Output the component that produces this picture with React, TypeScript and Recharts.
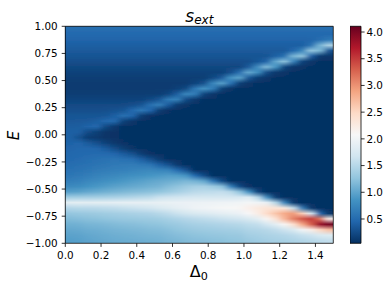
import { ComposedChart, XAxis, YAxis, ReferenceArea } from 'recharts';

const FONT = 'DejaVu Sans';

// Δ0 at the middle of each column of the map
const deltaCenters = [
  0.025, 0.075, 0.125, 0.175, 0.225, 0.275, 0.325, 0.375, 0.425, 0.475,
  0.525, 0.575, 0.625, 0.675, 0.725, 0.775, 0.825, 0.875, 0.925, 0.975,
  1.025, 1.075, 1.125, 1.175, 1.225, 1.275, 1.325, 1.375, 1.425, 1.475,
];

// E of each sample down a column, top to bottom
const energyLevels = [
  0.975, 0.925, 0.875, 0.825, 0.775, 0.725, 0.675, 0.625, 0.575, 0.525,
  0.475, 0.425, 0.375, 0.325, 0.275, 0.225, 0.175, 0.125, 0.075, 0.025,
  -0.025, -0.075, -0.125, -0.175, -0.225, -0.275, -0.325, -0.375, -0.425, -0.475,
  -0.525, -0.575, -0.625, -0.675, -0.725, -0.775, -0.825, -0.875, -0.925, -0.975,
];

const deltaTicks = [0, 0.2, 0.4, 0.6, 0.8, 1.0, 1.2, 1.4];
const energyTicks = [-1, -0.75, -0.5, -0.25, 0, 0.25, 0.5, 0.75, 1];
const colorbarTicks = [0.5, 1.0, 1.5, 2.0, 2.5, 3.0, 3.5, 4.0];
const colorRange = [0.045, 4.107];

// s_ext: one list per Δ0 column, E from +1 down to -1
const sExt = [
  [0.52, 0.48, 0.44, 0.40, 0.36, 0.32, 0.27, 0.22, 0.18, 0.15, 0.13, 0.13, 0.15, 0.19, 0.24, 0.28, 0.32, 0.35, 0.38, 0.40,
   0.41, 0.42, 0.44, 0.46, 0.48, 0.51, 0.55, 0.60, 0.67, 0.77, 0.95, 1.35, 1.85, 1.48, 1.28, 1.18, 1.09, 1.03, 0.98, 0.95],
  [0.52, 0.48, 0.44, 0.40, 0.36, 0.32, 0.27, 0.22, 0.18, 0.15, 0.13, 0.13, 0.15, 0.19, 0.24, 0.28, 0.32, 0.35, 0.38, 0.40,
   0.30, 0.44, 0.46, 0.48, 0.50, 0.53, 0.57, 0.62, 0.69, 0.79, 0.97, 1.36, 1.87, 1.50, 1.30, 1.20, 1.10, 1.04, 0.99, 0.96],
  [0.52, 0.48, 0.44, 0.40, 0.36, 0.32, 0.27, 0.22, 0.18, 0.15, 0.13, 0.13, 0.15, 0.19, 0.24, 0.28, 0.32, 0.36, 0.43, 0.25,
   0.15, 0.36, 0.46, 0.49, 0.52, 0.55, 0.60, 0.66, 0.75, 0.85, 1.02, 1.37, 1.86, 1.51, 1.32, 1.22, 1.13, 1.07, 1.02, 0.99],
  [0.52, 0.48, 0.44, 0.40, 0.36, 0.32, 0.27, 0.22, 0.18, 0.15, 0.13, 0.13, 0.15, 0.19, 0.24, 0.28, 0.32, 0.39, 0.47, 0.17,
   0.12, 0.28, 0.44, 0.50, 0.54, 0.58, 0.63, 0.70, 0.78, 0.89, 1.05, 1.38, 1.87, 1.52, 1.34, 1.24, 1.14, 1.08, 1.04, 1.01],
  [0.52, 0.48, 0.44, 0.40, 0.36, 0.32, 0.27, 0.22, 0.18, 0.15, 0.13, 0.13, 0.15, 0.19, 0.24, 0.28, 0.34, 0.47, 0.23, 0.09,
   0.08, 0.18, 0.37, 0.49, 0.56, 0.60, 0.65, 0.73, 0.82, 0.93, 1.09, 1.40, 1.87, 1.54, 1.36, 1.26, 1.16, 1.10, 1.06, 1.03],
  [0.52, 0.48, 0.44, 0.40, 0.36, 0.32, 0.27, 0.22, 0.18, 0.15, 0.13, 0.13, 0.15, 0.19, 0.24, 0.30, 0.40, 0.49, 0.12, 0.07,
   0.07, 0.11, 0.26, 0.45, 0.58, 0.62, 0.68, 0.76, 0.86, 0.97, 1.12, 1.42, 1.88, 1.56, 1.38, 1.28, 1.18, 1.12, 1.08, 1.05],
  [0.52, 0.48, 0.44, 0.40, 0.36, 0.32, 0.27, 0.22, 0.18, 0.15, 0.13, 0.13, 0.15, 0.19, 0.24, 0.32, 0.54, 0.18, 0.06, 0.06,
   0.06, 0.07, 0.15, 0.37, 0.55, 0.63, 0.69, 0.79, 0.89, 1.00, 1.15, 1.44, 1.89, 1.59, 1.40, 1.30, 1.20, 1.13, 1.09, 1.06],
  [0.52, 0.48, 0.44, 0.40, 0.36, 0.32, 0.27, 0.22, 0.18, 0.15, 0.13, 0.13, 0.15, 0.19, 0.27, 0.47, 0.45, 0.10, 0.06, 0.06,
   0.06, 0.06, 0.08, 0.29, 0.52, 0.64, 0.71, 0.82, 0.93, 1.03, 1.18, 1.47, 1.90, 1.62, 1.42, 1.31, 1.21, 1.15, 1.10, 1.07],
  [0.52, 0.48, 0.44, 0.40, 0.36, 0.32, 0.27, 0.22, 0.18, 0.15, 0.13, 0.13, 0.15, 0.19, 0.32, 0.61, 0.14, 0.06, 0.06, 0.06,
   0.06, 0.06, 0.06, 0.15, 0.40, 0.61, 0.74, 0.84, 0.96, 1.06, 1.20, 1.50, 1.90, 1.65, 1.44, 1.33, 1.23, 1.16, 1.12, 1.08],
  [0.52, 0.48, 0.44, 0.40, 0.36, 0.32, 0.27, 0.22, 0.18, 0.15, 0.13, 0.13, 0.15, 0.24, 0.53, 0.45, 0.07, 0.06, 0.06, 0.06,
   0.06, 0.06, 0.06, 0.07, 0.28, 0.58, 0.76, 0.87, 1.00, 1.09, 1.23, 1.53, 1.91, 1.68, 1.46, 1.34, 1.25, 1.18, 1.13, 1.09],
  [0.52, 0.48, 0.44, 0.40, 0.36, 0.32, 0.27, 0.22, 0.18, 0.15, 0.13, 0.13, 0.15, 0.32, 0.68, 0.14, 0.06, 0.06, 0.06, 0.06,
   0.06, 0.06, 0.06, 0.06, 0.14, 0.41, 0.72, 0.90, 1.03, 1.12, 1.26, 1.62, 1.92, 1.75, 1.50, 1.36, 1.26, 1.19, 1.14, 1.10],
  [0.52, 0.48, 0.44, 0.40, 0.36, 0.32, 0.27, 0.22, 0.18, 0.15, 0.13, 0.13, 0.21, 0.63, 0.37, 0.07, 0.06, 0.06, 0.06, 0.06,
   0.06, 0.06, 0.06, 0.06, 0.06, 0.30, 0.71, 0.93, 1.06, 1.19, 1.33, 1.65, 1.93, 1.81, 1.56, 1.40, 1.30, 1.22, 1.17, 1.13],
  [0.52, 0.48, 0.44, 0.40, 0.36, 0.32, 0.27, 0.22, 0.18, 0.15, 0.13, 0.17, 0.38, 0.70, 0.13, 0.06, 0.06, 0.06, 0.06, 0.06,
   0.06, 0.06, 0.06, 0.06, 0.06, 0.12, 0.50, 0.92, 1.09, 1.25, 1.39, 1.67, 1.94, 1.87, 1.63, 1.44, 1.33, 1.26, 1.20, 1.15],
  [0.52, 0.48, 0.44, 0.40, 0.36, 0.32, 0.27, 0.22, 0.18, 0.15, 0.13, 0.23, 0.75, 0.25, 0.08, 0.06, 0.06, 0.06, 0.06, 0.06,
   0.06, 0.06, 0.06, 0.06, 0.06, 0.06, 0.31, 0.86, 1.14, 1.32, 1.46, 1.70, 1.95, 1.92, 1.69, 1.48, 1.37, 1.29, 1.22, 1.18],
  [0.52, 0.48, 0.44, 0.40, 0.36, 0.32, 0.27, 0.22, 0.18, 0.15, 0.19, 0.60, 0.66, 0.12, 0.06, 0.06, 0.06, 0.06, 0.06, 0.06,
   0.06, 0.06, 0.06, 0.06, 0.06, 0.06, 0.06, 0.48, 1.10, 1.38, 1.52, 1.72, 1.95, 1.98, 1.75, 1.52, 1.40, 1.32, 1.25, 1.20],
  [0.52, 0.48, 0.44, 0.40, 0.36, 0.32, 0.27, 0.22, 0.18, 0.15, 0.28, 0.86, 0.19, 0.06, 0.06, 0.06, 0.06, 0.06, 0.06, 0.06,
   0.06, 0.06, 0.06, 0.06, 0.06, 0.06, 0.06, 0.25, 1.01, 1.39, 1.54, 1.72, 1.96, 2.00, 1.79, 1.55, 1.42, 1.34, 1.26, 1.21],
  [0.52, 0.48, 0.44, 0.40, 0.36, 0.32, 0.27, 0.22, 0.18, 0.23, 0.72, 0.66, 0.10, 0.06, 0.06, 0.06, 0.06, 0.06, 0.06, 0.06,
   0.06, 0.06, 0.06, 0.06, 0.06, 0.06, 0.06, 0.06, 0.60, 1.32, 1.55, 1.72, 1.97, 2.03, 1.83, 1.58, 1.44, 1.35, 1.28, 1.23],
  [0.52, 0.48, 0.44, 0.40, 0.36, 0.32, 0.27, 0.22, 0.18, 0.36, 0.96, 0.17, 0.06, 0.06, 0.06, 0.06, 0.06, 0.06, 0.06, 0.06,
   0.06, 0.06, 0.06, 0.06, 0.06, 0.06, 0.06, 0.06, 0.24, 1.22, 1.57, 1.72, 1.98, 2.05, 1.87, 1.62, 1.46, 1.37, 1.29, 1.24],
  [0.52, 0.48, 0.44, 0.40, 0.36, 0.32, 0.27, 0.22, 0.28, 0.85, 0.55, 0.08, 0.06, 0.06, 0.06, 0.06, 0.06, 0.06, 0.06, 0.06,
   0.06, 0.06, 0.06, 0.06, 0.06, 0.06, 0.06, 0.06, 0.06, 0.66, 1.50, 1.72, 1.99, 2.07, 1.91, 1.65, 1.48, 1.38, 1.31, 1.26],
  [0.52, 0.48, 0.44, 0.40, 0.36, 0.32, 0.27, 0.22, 0.51, 0.98, 0.16, 0.06, 0.06, 0.06, 0.06, 0.06, 0.06, 0.06, 0.06, 0.06,
   0.06, 0.06, 0.06, 0.06, 0.06, 0.06, 0.06, 0.06, 0.06, 0.23, 1.25, 1.72, 2.00, 2.10, 1.95, 1.68, 1.50, 1.40, 1.32, 1.27],
  [0.52, 0.48, 0.44, 0.40, 0.36, 0.32, 0.27, 0.36, 1.02, 0.33, 0.09, 0.06, 0.06, 0.06, 0.06, 0.06, 0.06, 0.06, 0.06, 0.06,
   0.06, 0.06, 0.06, 0.06, 0.06, 0.06, 0.06, 0.06, 0.06, 0.07, 0.82, 1.80, 2.03, 2.19, 2.06, 1.75, 1.55, 1.45, 1.38, 1.32],
  [0.52, 0.48, 0.44, 0.40, 0.36, 0.32, 0.34, 0.78, 0.82, 0.15, 0.06, 0.06, 0.06, 0.06, 0.06, 0.06, 0.06, 0.06, 0.06, 0.06,
   0.06, 0.06, 0.06, 0.06, 0.06, 0.06, 0.06, 0.06, 0.06, 0.06, 0.20, 1.49, 2.00, 2.28, 2.22, 1.85, 1.58, 1.47, 1.40, 1.35],
  [0.52, 0.48, 0.44, 0.40, 0.36, 0.32, 0.43, 1.17, 0.26, 0.10, 0.06, 0.06, 0.06, 0.06, 0.06, 0.06, 0.06, 0.06, 0.06, 0.06,
   0.06, 0.06, 0.06, 0.06, 0.06, 0.06, 0.06, 0.06, 0.06, 0.06, 0.06, 0.80, 1.95, 2.35, 2.45, 2.10, 1.70, 1.50, 1.43, 1.38],
  [0.52, 0.48, 0.44, 0.40, 0.36, 0.41, 0.98, 0.88, 0.12, 0.06, 0.06, 0.06, 0.06, 0.06, 0.06, 0.06, 0.06, 0.06, 0.06, 0.06,
   0.06, 0.06, 0.06, 0.06, 0.06, 0.06, 0.06, 0.06, 0.06, 0.06, 0.06, 0.15, 1.50, 2.35, 2.65, 2.35, 1.85, 1.56, 1.45, 1.40],
  [0.52, 0.48, 0.44, 0.40, 0.36, 0.54, 1.25, 0.22, 0.09, 0.06, 0.06, 0.06, 0.06, 0.06, 0.06, 0.06, 0.06, 0.06, 0.06, 0.06,
   0.06, 0.06, 0.06, 0.06, 0.06, 0.06, 0.06, 0.06, 0.06, 0.06, 0.06, 0.06, 0.73, 2.30, 2.85, 2.75, 2.10, 1.65, 1.48, 1.41],
  [0.52, 0.48, 0.44, 0.40, 0.47, 1.12, 0.70, 0.10, 0.06, 0.06, 0.06, 0.06, 0.06, 0.06, 0.06, 0.06, 0.06, 0.06, 0.06, 0.06,
   0.06, 0.06, 0.06, 0.06, 0.06, 0.06, 0.06, 0.06, 0.06, 0.06, 0.06, 0.06, 0.12, 1.60, 2.95, 3.10, 2.40, 1.75, 1.53, 1.44],
  [0.52, 0.48, 0.44, 0.40, 0.72, 1.26, 0.19, 0.08, 0.06, 0.06, 0.06, 0.06, 0.06, 0.06, 0.06, 0.06, 0.06, 0.06, 0.06, 0.06,
   0.06, 0.06, 0.06, 0.06, 0.06, 0.06, 0.06, 0.06, 0.06, 0.06, 0.06, 0.06, 0.06, 0.65, 2.60, 3.35, 2.85, 2.00, 1.60, 1.47],
  [0.52, 0.48, 0.44, 0.55, 1.29, 0.40, 0.10, 0.06, 0.06, 0.06, 0.06, 0.06, 0.06, 0.06, 0.06, 0.06, 0.06, 0.06, 0.06, 0.06,
   0.06, 0.06, 0.06, 0.06, 0.06, 0.06, 0.06, 0.06, 0.06, 0.06, 0.06, 0.06, 0.06, 0.10, 1.70, 3.50, 3.30, 2.20, 1.65, 1.50],
  [0.52, 0.48, 0.52, 1.10, 1.15, 0.12, 0.06, 0.06, 0.06, 0.06, 0.06, 0.06, 0.06, 0.06, 0.06, 0.06, 0.06, 0.06, 0.06, 0.06,
   0.06, 0.06, 0.06, 0.06, 0.06, 0.06, 0.06, 0.06, 0.06, 0.06, 0.06, 0.06, 0.06, 0.06, 0.44, 3.20, 3.85, 2.50, 1.75, 1.55],
  [0.52, 0.48, 0.62, 1.43, 0.30, 0.10, 0.06, 0.06, 0.06, 0.06, 0.06, 0.06, 0.06, 0.06, 0.06, 0.06, 0.06, 0.06, 0.06, 0.06,
   0.06, 0.06, 0.06, 0.06, 0.06, 0.06, 0.06, 0.06, 0.06, 0.06, 0.06, 0.06, 0.06, 0.06, 0.08, 2.20, 4.05, 2.70, 1.80, 1.58],
];

// matplotlib RdBu, used reversed
const RdBu = ['#67001f', '#b2182b', '#d6604d', '#f4a582', '#fddbc7', '#f7f7f7', '#d1e5f0', '#92c5de', '#4393c3', '#2166ac', '#053061'];

const rgb = (h: string) => [1, 3, 5].map((i) => parseInt(h.slice(i, i + 2), 16));

function colorOf(v: number) {
  const t = Math.min(1, Math.max(0, (v - colorRange[0]) / (colorRange[1] - colorRange[0])));
  const p = (1 - t) * (RdBu.length - 1);
  const i = Math.min(RdBu.length - 2, Math.floor(p));
  const f = p - i;
  const a = rgb(RdBu[i]);
  const b = rgb(RdBu[i + 1]);
  return `rgb(${a.map((c, n) => Math.round(c + (b[n] - c) * f)).join(',')})`;
}

const minus = (s: string) => s.replace('-', '\u2212');
const tickStyle = { fill: '#000', fontSize: 10.4, fontFamily: FONT };
const tickLine = { stroke: '#000', strokeWidth: 0.8 };
const plotMargin = { top: 26.3, right: 56.7, bottom: 46.7, left: 65.3 };

export default function App() {
  const half = (deltaCenters[1] - deltaCenters[0]) / 2;
  const last = deltaCenters.length - 1;
  const columns = deltaCenters.map((d) => ({ delta: d }));

  return (
    <div style={{ position: 'absolute', left: 0, top: 0, width: 390, height: 290, background: '#fff' }}>
      {/* smooths the column steps sideways, like gouraud shading */}
      <svg width={0} height={0} style={{ position: 'absolute' }}>
        <filter id="hblur" x="-5%" y="-5%" width="110%" height="110%">
          <feGaussianBlur stdDeviation="3.4 0" />
        </filter>
      </svg>

      {/* the map, clipped to the plot area */}
      <div style={{ position: 'absolute', left: 65.3, top: 26.3, width: 268, height: 217, overflow: 'hidden' }}>
        <div style={{ position: 'absolute', left: -65.3, top: -26.3, filter: 'url(#hblur)' }}>
          <ComposedChart width={390} height={290} data={columns} margin={plotMargin}>
            <defs>
              {sExt.map((col, k) => (
                <linearGradient key={k} id={`col${k}`} x1="0" y1="0" x2="0" y2="1">
                  {col.map((v, j) => (
                    <stop key={j} offset={(1 - energyLevels[j]) / 2} stopColor={colorOf(v)} />
                  ))}
                </linearGradient>
              ))}
            </defs>
            <XAxis dataKey="delta" type="number" domain={[0, 1.5]} hide allowDataOverflow />
            <YAxis type="number" domain={[-1, 1]} hide allowDataOverflow />
            {deltaCenters.map((d, k) => (
              <ReferenceArea
                key={k}
                x1={k === 0 ? d - 3 * half : d - half}
                x2={k === last ? d + 3 * half : d + half + 0.006}
                y1={-1}
                y2={1}
                fill={`url(#col${k})`}
                fillOpacity={1}
                stroke="none"
                ifOverflow="visible"
              />
            ))}
          </ComposedChart>
        </div>
      </div>

      {/* axes and frame */}
      <div style={{ position: 'absolute', left: 0, top: 0 }}>
        <ComposedChart width={390} height={290} data={columns} margin={{ top: 26.3, right: 56.7, bottom: 0, left: 0 }}>
          <XAxis
            dataKey="delta"
            type="number"
            domain={[0, 1.5]}
            ticks={deltaTicks}
            interval={0}
            tickFormatter={(v: number) => v.toFixed(1)}
            height={46.7}
            tickSize={3.6}
            tickMargin={4.5}
            axisLine={false}
            tickLine={tickLine}
            tick={tickStyle}
            allowDataOverflow
          />
          <YAxis
            type="number"
            domain={[-1, 1]}
            ticks={energyTicks}
            interval={0}
            tickFormatter={(v: number) => minus(v.toFixed(2))}
            width={65.3}
            tickSize={3.6}
            tickMargin={4}
            axisLine={false}
            tickLine={tickLine}
            tick={tickStyle}
            allowDataOverflow
          />
          <ReferenceArea x1={0} x2={1.5} y1={-1} y2={1} fill="none" stroke="#000" strokeWidth={0.8} ifOverflow="visible" />
        </ComposedChart>
      </div>

      {/* colour bar */}
      <div style={{ position: 'absolute', left: 350, top: 0 }}>
        <ComposedChart width={40} height={290} data={[{ x: 0 }, { x: 1 }]} margin={{ top: 26.3, right: 0, bottom: 46.7, left: 0 }}>
          <defs>
            <linearGradient id="cbar" x1="0" y1="0" x2="0" y2="1">
              {RdBu.map((c, i) => (
                <stop key={i} offset={i / (RdBu.length - 1)} stopColor={c} />
              ))}
            </linearGradient>
          </defs>
          <XAxis dataKey="x" type="number" domain={[0, 1]} hide />
          <YAxis
            orientation="right"
            type="number"
            domain={colorRange}
            ticks={colorbarTicks}
            interval={0}
            tickFormatter={(v: number) => v.toFixed(1)}
            width={29}
            tickSize={3.6}
            tickMargin={1.8}
            axisLine={false}
            tickLine={tickLine}
            tick={tickStyle}
            allowDataOverflow
          />
          <ReferenceArea
            x1={0}
            x2={1}
            y1={colorRange[0]}
            y2={colorRange[1]}
            fill="url(#cbar)"
            fillOpacity={1}
            stroke="#000"
            strokeWidth={0.8}
            ifOverflow="visible"
          />
        </ComposedChart>
      </div>

      <svg width={390} height={290} style={{ position: 'absolute', left: 0, top: 0, pointerEvents: 'none' }}>
        <text x={199.4} y={21.7} textAnchor="middle" fontFamily={FONT} fontStyle="italic" fontSize={17} fill="#000">
          s<tspan fontSize={12} dy={2}>ext</tspan>
        </text>
        <text x={198.8} y={276.7} textAnchor="middle" fontFamily={FONT} fontSize={16} fill="#000">
          Δ<tspan fontSize={11.2} dy={3.3}>0</tspan>
        </text>
        <text transform="translate(19.4 135.5) rotate(-90)" textAnchor="middle" fontFamily={FONT} fontStyle="italic" fontSize={15} fill="#000">
          E
        </text>
      </svg>
    </div>
  );
}
